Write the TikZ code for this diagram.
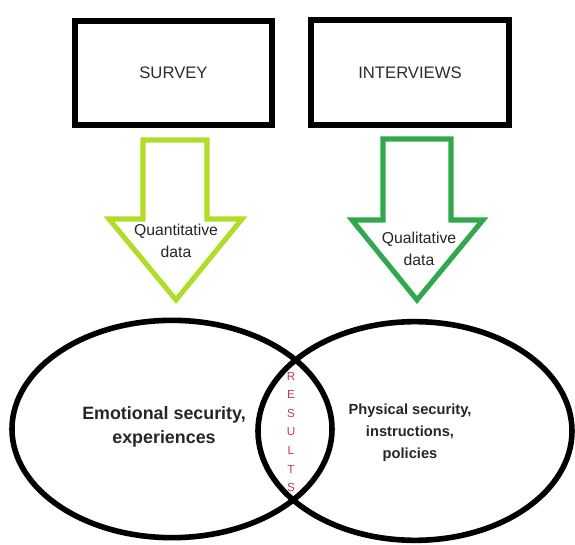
\documentclass[tikz,border=0pt]{standalone}
\usepackage{fontspec}
\setmainfont{Liberation Sans}
\usetikzlibrary{shapes.geometric}
\definecolor{limearrow}{RGB}{176,222,40}
\definecolor{greenarrow}{RGB}{48,168,78}
\definecolor{resred}{RGB}{190,60,90}
\definecolor{boxtext}{RGB}{45,45,45}
\begin{document}
\begin{tikzpicture}[x=0.75pt,y=-0.75pt,
  srcbox/.style={draw=black,line width=4.5pt,fill=white,text=boxtext,
    font=\fontsize{12.5pt}{15pt}\selectfont,inner sep=0pt},
  blockarrow/.style={line width=3.8pt,line join=miter,fill=white},
  arrowtext/.style={align=center,text=black!85,font=\fontsize{11.8pt}{17pt}\selectfont},
  venn/.style={draw=black,line width=4.2pt,ellipse,inner sep=0pt},
  venntext/.style={align=center,text=black!85,font=\bfseries\fontsize{13.4pt}{18pt}\selectfont},
  venntextsmall/.style={align=center,text=black!85,font=\bfseries\fontsize{11pt}{16.5pt}\selectfont}]
\useasboundingbox (0,0) rectangle (575,545);
% source boxes
\node[srcbox,minimum width=147.75pt,minimum height=78pt] (survey) at (173.5,73) {SURVEY};
\node[srcbox,minimum width=148.5pt,minimum height=78.75pt] (interviews) at (410,72.5) {INTERVIEWS};
% block arrows
\draw[blockarrow,draw=limearrow] (143,140) -- (207,140) -- (207,219) -- (242,219)
  -- (176,300) -- (109,219) -- (143,219) -- cycle;
\draw[blockarrow,draw=greenarrow] (383,139) -- (451,139) -- (451,220) -- (483,220)
  -- (417,300) -- (352,220) -- (383,220) -- cycle;
\node[arrowtext] (quant) at (176,241) {Quantitative\\data};
\node[arrowtext] (qual) at (419,249) {Qualitative\\data};
% venn ellipses
\node[venn,minimum width=240pt,minimum height=163pt] (left) at (172,429) {};
\node[venn,minimum width=235.5pt,minimum height=164pt] (right) at (415,431) {};
\node[venntext] (emo) at (164,427) {Emotional security,\\experiences};
\node[venntextsmall] (phys) at (410,433) {Physical security,\\instructions,\\policies};
\node[align=center,text=resred,font=\fontsize{8.8pt}{13.9pt}\selectfont] (results) at (291,432)
  {R\\E\\S\\U\\L\\T\\S};
\end{tikzpicture}
\end{document}
